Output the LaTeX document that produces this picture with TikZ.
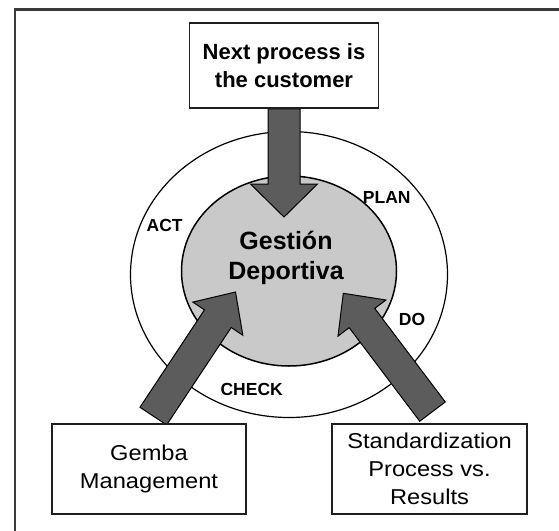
\documentclass[tikz,border=0pt]{standalone}
\usepackage{fontspec}
\setmainfont{Liberation Sans}
\newfontfamily\widefont[FakeStretch=1.1]{Liberation Sans}
\usetikzlibrary{calc,shapes.geometric}
\definecolor{arrowgray}{HTML}{5C5C5C}
\definecolor{innergray}{HTML}{C9C9C9}
\definecolor{framegray}{HTML}{3A3A3A}
\pgfdeclarelayer{bg}
\pgfdeclarelayer{mid}
\pgfsetlayers{bg,mid,main}
\tikzset{
  box/.style={draw=black!88, line width=1.8pt, fill=white, align=center, inner sep=0pt},
  barrow/.style={fill=arrowgray, draw=black, line width=1pt, line join=miter},
  ringlbl/.style={font=\fontsize{17.5}{20}\selectfont\bfseries, inner sep=0pt},
}
\newcommand\blockarrow[5]{%
  \coordinate (ba-b) at ($(#2)!#5!(#1)$);
  \filldraw[barrow] ($(#1)!#3!90:(#2)$) -- ($(ba-b)!#3!90:(#2)$) -- ($(ba-b)!#4!90:(#2)$) -- (#2)
    -- ($(ba-b)!#4!-90:(#2)$) -- ($(ba-b)!#3!-90:(#2)$) -- ($(#1)!#3!-90:(#2)$) -- cycle;}
\begin{document}
\begin{tikzpicture}[x=1pt,y=-1pt]
\useasboundingbox (0,0) rectangle (559,530);
\clip (0,0) rectangle (559,530);
\begin{pgfonlayer}{bg}
  \fill[white] (0,0) rectangle (559,530);
  \draw[framegray, line width=2.2pt] (15,9.5) rectangle (590,570);
  \node[draw, line width=1.2pt, fill=white, ellipse, minimum width=317, minimum height=286, inner sep=0pt] (outer) at (289,274.5) {};
  \node[draw, line width=1.5pt, fill=innergray, ellipse, minimum width=215, minimum height=190, inner sep=0pt] (inner) at (289,271) {};
  \node[ringlbl] (act) at (164.7,225.5) {ACT};
  \node[ringlbl] (plan) at (386.7,197.5) {PLAN};
  \node[ringlbl] (do) at (412,319) {DO};
  \node[ringlbl] (check) at (251.7,389) {CHECK};
  \node[font=\fontsize{25}{29.4}\selectfont\bfseries, align=center, inner sep=0pt] (gd) at (286,258) {Gestión\\Deportiva};
\end{pgfonlayer}
\node[box, minimum width=189, minimum height=85, font=\fontsize{22}{27.3}\selectfont\bfseries] (next) at (284,65.5) {Next process is\\the customer};
\node[box, minimum width=194, minimum height=90, font=\widefont\fontsize{21.5}{27.5}\selectfont] (gemba) at (149,469) {Gemba\\Management};
\node[box, minimum width=195, minimum height=90, font=\widefont\fontsize{21.5}{28}\selectfont] (std) at (429.5,469) {Standardization\\Process vs.\\Results};
\coordinate (tipT) at (284,217);
\coordinate (tipL) at (235.5,292);
\coordinate (tipR) at (343.3,293.3);
\coordinate (tailL) at ($(gemba.north)+(4.3,-7)$);
\coordinate (tailR) at ($(std.north)+(3,-11.5)$);
\begin{pgfonlayer}{mid}
  \blockarrow{next.south}{tipT}{16pt}{33.5pt}{33pt}
  \blockarrow{tailL}{tipL}{16pt}{30pt}{32pt}
  \blockarrow{tailR}{tipR}{16pt}{30pt}{31pt}
\end{pgfonlayer}
\end{tikzpicture}
\end{document}
